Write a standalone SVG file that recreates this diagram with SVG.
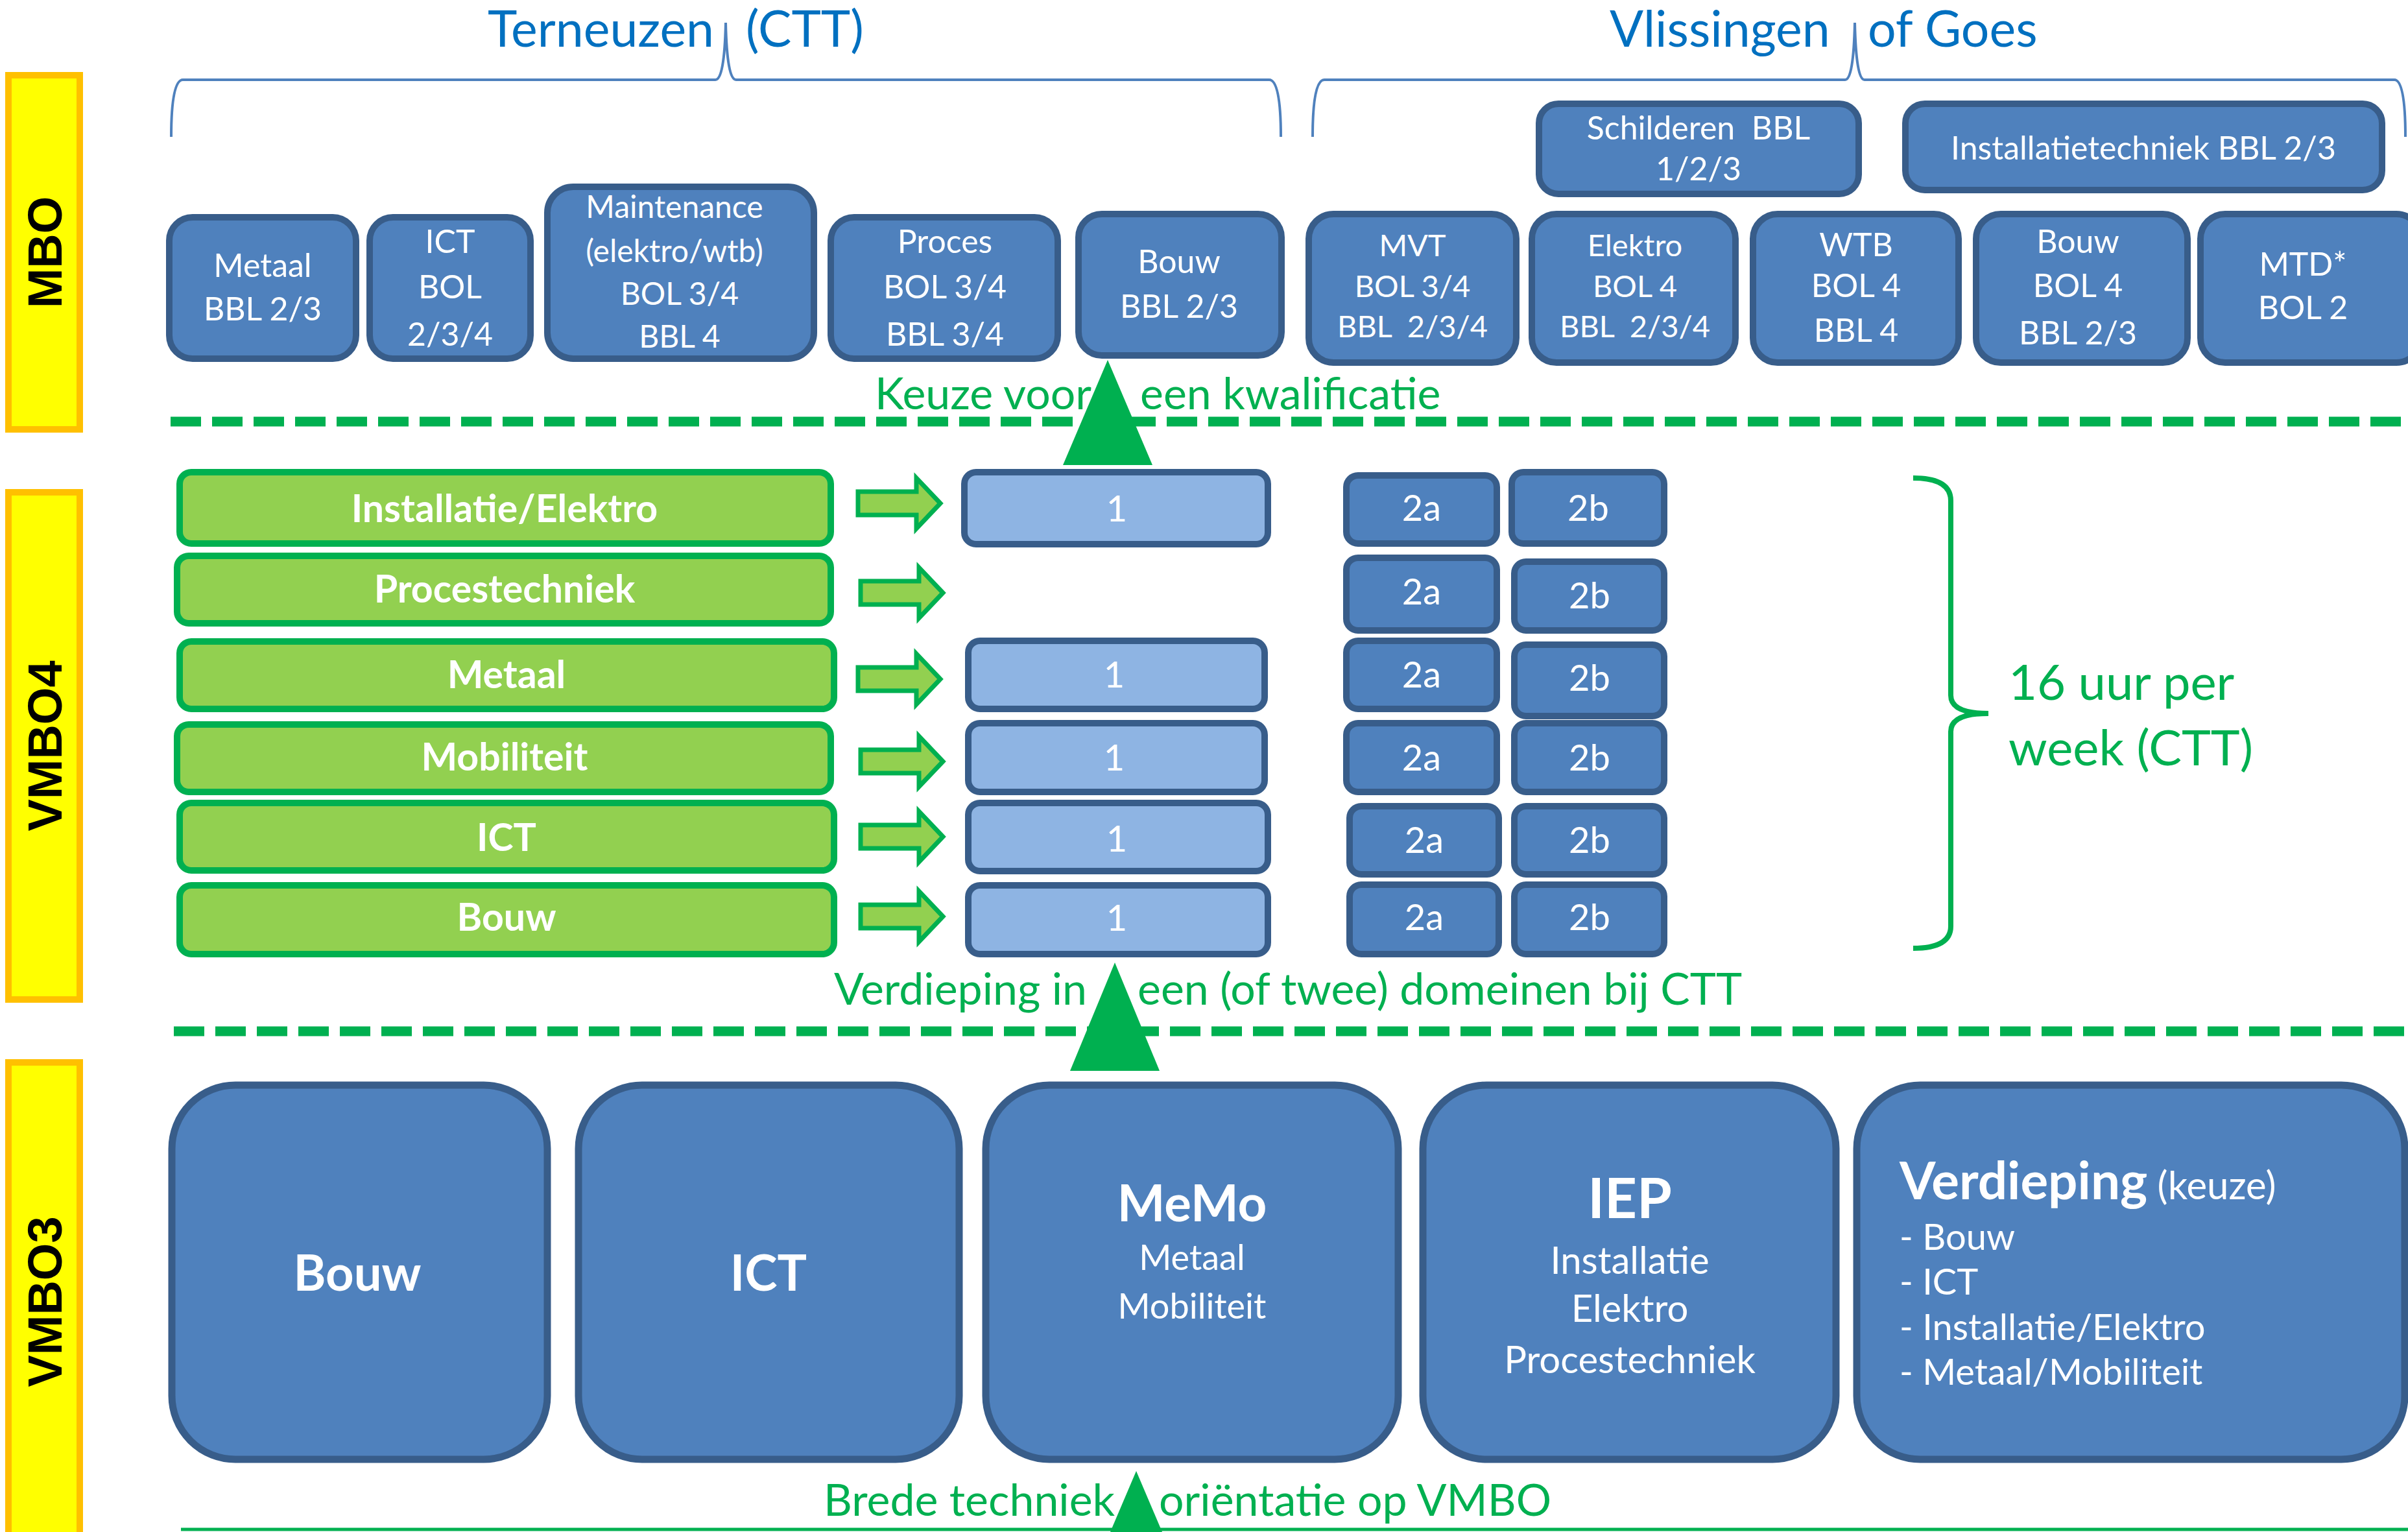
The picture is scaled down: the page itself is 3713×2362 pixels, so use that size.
<svg xmlns="http://www.w3.org/2000/svg" xmlns:xlink="http://www.w3.org/1999/xlink" width="3713" height="2362" viewBox="0 0 3713 2362">
<style>
.bar{fill:#FFFF00;stroke:#FFC000;stroke-width:10}
.barT{font-family:"Liberation Sans",Arial,sans-serif;font-weight:bold;font-size:74px;fill:#000;text-anchor:middle}
.mbo{fill:#4F81BD;stroke:#385D8A;stroke-width:10}
.lb{fill:#8EB4E3;stroke:#385D8A;stroke-width:10}
.gb{fill:#92D050;stroke:#00B050;stroke-width:10}
.big{fill:#4F81BD;stroke:#385D8A;stroke-width:11}
.t{font-family:Lato,"Open Sans",sans-serif;fill:#fff;text-anchor:middle}
.m{font-size:50px}
.s{font-size:47px}
.n{font-size:56px}
.gt{font-family:Lato,"Open Sans",sans-serif;fill:#fff;text-anchor:middle;font-weight:bold;font-size:59px}
.gl{font-family:Lato,"Open Sans",sans-serif;fill:#00B050;font-size:68px}
.bl{font-family:Lato,"Open Sans",sans-serif;fill:#0070C0;font-size:77px}
.brace{fill:none;stroke:#4F81BD;stroke-width:4}
.dash{stroke:#00B050;stroke-width:15;stroke-dasharray:47 17}
.tri{fill:#00B050}
.arr{fill:#92D050;stroke:#00B050;stroke-width:7}
</style>
<defs>
<polygon id="arrow" class="arr" points="0,-18 90,-18 90,-39 127,0 90,39 90,18 0,18"/>
</defs>

<g id="bar-mbo"><rect class="bar" x="13" y="116" width="110" height="546"/><text class="barT" transform="translate(95,389) rotate(-90)">MBO</text></g>
<g id="bar-vmbo4"><rect class="bar" x="13" y="759" width="110" height="782"/><text class="barT" transform="translate(95,1150) rotate(-90)">VMBO4</text></g>
<g id="bar-vmbo3"><rect class="bar" x="13" y="1638" width="110" height="760"/><text class="barT" transform="translate(95,2007) rotate(-90)">VMBO3</text></g>

<g id="label-terneuzen"><text class="bl" y="72"><tspan x="752">Terneuzen</tspan><tspan x="1150">(CTT)</tspan></text></g>
<g id="label-vlissingen"><text class="bl" y="72"><tspan x="2482">Vlissingen</tspan><tspan x="2880">of Goes</tspan></text></g>

<g id="connectors">
<path class="brace" d="M264,211 Q264,123 282,123 L1103,123 Q1117,123 1119,35 Q1121,123 1135,123 L1957,123 Q1975,123 1975,211"/>
<path class="brace" d="M2024,211 Q2024,123 2042,123 L2845,123 Q2858,123 2860,35 Q2862,123 2875,123 L3692,123 Q3709,123 3709,211"/>
<line class="dash" x1="263" y1="650" x2="3713" y2="650"/>
<line class="dash" x1="268" y1="1590" x2="3713" y2="1590"/>
<line x1="279" y1="2358" x2="3713" y2="2358" stroke="#00B050" stroke-width="5"/>
<polygon class="tri" points="1708,555 1639,717 1777,717"/>
<polygon class="tri" points="1719,1484 1650,1651 1788,1651"/>
<polygon class="tri" points="1752,2268 1683,2430 1821,2430"/>
<use xlink:href="#arrow" x="1323" y="776"/>
<use xlink:href="#arrow" x="1327" y="914"/>
<use xlink:href="#arrow" x="1323" y="1047"/>
<use xlink:href="#arrow" x="1327" y="1174"/>
<use xlink:href="#arrow" x="1327" y="1290"/>
<use xlink:href="#arrow" x="1327" y="1413"/>
<path d="M2950,737 Q3008,737 3008,772 L3008,1072 Q3008,1100 3066,1100 Q3008,1100 3008,1128 L3008,1428 Q3008,1462 2950,1462" fill="none" stroke="#00B050" stroke-width="8"/>
</g>

<g id="label-keuze"><text class="gl" y="631"><tspan x="1349">Keuze voor</tspan><tspan x="1758">een kwalificatie</tspan></text></g>
<g id="label-verdieping"><text class="gl" y="1549"><tspan x="1286">Verdieping in</tspan><tspan x="1754">een (of twee) domeinen bij CTT</tspan></text></g>
<g id="label-brede"><text class="gl" y="2337"><tspan x="1270">Brede techniek</tspan><tspan x="1787">oriëntatie op VMBO</tspan></text></g>
<g id="label-16uur"><text class="gl" style="font-size:76px"><tspan x="3097" y="1079">16 uur per</tspan><tspan x="3097" y="1180">week (CTT)</tspan></text></g>

<!-- MBO Terneuzen -->
<g id="mbo-metaal"><rect class="mbo" x="261" y="335" width="288" height="218" rx="36"/><text class="t m"><tspan x="405" y="427">Metaal</tspan><tspan x="405" y="494">BBL 2/3</tspan></text></g>
<g id="mbo-ict"><rect class="mbo" x="570" y="335" width="248" height="218" rx="36"/><text class="t m"><tspan x="694" y="390">ICT</tspan><tspan x="694" y="460">BOL</tspan><tspan x="694" y="533">2/3/4</tspan></text></g>
<g id="mbo-maintenance"><rect class="mbo" x="844" y="288" width="411" height="265" rx="40"/><text class="t" style="font-size:48px"><tspan x="1040" y="336">Maintenance</tspan><tspan x="1040" y="404">(elektro/wtb)</tspan><tspan x="1048" y="470">BOL 3/4</tspan><tspan x="1048" y="536">BBL 4</tspan></text></g>
<g id="mbo-proces"><rect class="mbo" x="1281" y="335" width="350" height="218" rx="36"/><text class="t m"><tspan x="1457" y="390">Proces</tspan><tspan x="1457" y="460">BOL 3/4</tspan><tspan x="1457" y="533">BBL 3/4</tspan></text></g>
<g id="mbo-bouw-t"><rect class="mbo" x="1663" y="330" width="313" height="218" rx="36"/><text class="t m"><tspan x="1818" y="421">Bouw</tspan><tspan x="1818" y="490">BBL 2/3</tspan></text></g>

<!-- MBO Vlissingen -->
<g id="mbo-schilderen"><rect class="mbo" x="2373" y="160" width="493" height="139" rx="30"/><text class="t m"><tspan x="2619" y="215">Schilderen&#160; BBL</tspan><tspan x="2619" y="278">1/2/3</tspan></text></g>
<g id="mbo-installatietechniek"><rect class="mbo" x="2938" y="160" width="735" height="133" rx="30"/><text class="t m" x="3305" y="246">Installatietechniek BBL 2/3</text></g>
<g id="mbo-mvt"><rect class="mbo" x="2018" y="330" width="320" height="229" rx="38"/><text class="t s"><tspan x="2178" y="395">MVT</tspan><tspan x="2178" y="458">BOL 3/4</tspan><tspan x="2178" y="520">BBL&#160; 2/3/4</tspan></text></g>
<g id="mbo-elektro"><rect class="mbo" x="2362" y="330" width="314" height="229" rx="38"/><text class="t s"><tspan x="2521" y="395">Elektro</tspan><tspan x="2521" y="458">BOL 4</tspan><tspan x="2521" y="520">BBL&#160; 2/3/4</tspan></text></g>
<g id="mbo-wtb"><rect class="mbo" x="2703" y="330" width="317" height="229" rx="38"/><text class="t m"><tspan x="2862" y="395">WTB</tspan><tspan x="2862" y="458">BOL 4</tspan><tspan x="2862" y="527">BBL 4</tspan></text></g>
<g id="mbo-bouw-v"><rect class="mbo" x="3047" y="330" width="326" height="229" rx="38"/><text class="t m"><tspan x="3204" y="390">Bouw</tspan><tspan x="3204" y="458">BOL 4</tspan><tspan x="3204" y="531">BBL 2/3</tspan></text></g>
<g id="mbo-mtd"><rect class="mbo" x="3393" y="330" width="340" height="229" rx="38"/><text class="t m"><tspan x="3551" y="425">MTD*</tspan><tspan x="3551" y="492">BOL 2</tspan></text></g>

<!-- VMBO4 -->
<g id="v4-installatie"><rect class="gb" x="277" y="728" width="1004" height="110" rx="18"/><text class="gt" x="778" y="805">Installatie/Elektro</text></g>
<g id="v4-procestechniek"><rect class="gb" x="273" y="857" width="1008" height="104" rx="18"/><text class="gt" x="778" y="929">Procestechniek</text></g>
<g id="v4-metaal"><rect class="gb" x="277" y="989" width="1009" height="104" rx="18"/><text class="gt" x="781" y="1061">Metaal</text></g>
<g id="v4-mobiliteit"><rect class="gb" x="273" y="1117" width="1008" height="104" rx="18"/><text class="gt" x="778" y="1188">Mobiliteit</text></g>
<g id="v4-ict"><rect class="gb" x="277" y="1238" width="1009" height="104" rx="18"/><text class="gt" x="781" y="1312">ICT</text></g>
<g id="v4-bouw"><rect class="gb" x="277" y="1365" width="1009" height="106" rx="18"/><text class="gt" x="781" y="1435">Bouw</text></g>

<g id="v4-1-a"><rect class="lb" x="1487" y="728" width="468" height="111" rx="18"/><text class="t n" x="1722" y="804">1</text></g>
<g id="v4-1-c"><rect class="lb" x="1493" y="988" width="457" height="105" rx="18"/><text class="t n" x="1718" y="1060">1</text></g>
<g id="v4-1-d"><rect class="lb" x="1493" y="1115" width="457" height="106" rx="18"/><text class="t n" x="1718" y="1188">1</text></g>
<g id="v4-1-e"><rect class="lb" x="1493" y="1238" width="462" height="105" rx="18"/><text class="t n" x="1722" y="1313">1</text></g>
<g id="v4-1-f"><rect class="lb" x="1493" y="1365" width="462" height="106" rx="18"/><text class="t n" x="1722" y="1435">1</text></g>

<g id="v4-2a-1"><rect class="mbo" x="2076" y="733" width="232" height="105" rx="18"/><text class="t n" x="2192" y="803">2a</text></g>
<g id="v4-2b-1"><rect class="mbo" x="2331" y="728" width="235" height="110" rx="18"/><text class="t n" x="2449" y="803">2b</text></g>
<g id="v4-2a-2"><rect class="mbo" x="2076" y="860" width="232" height="112" rx="18"/><text class="t n" x="2192" y="932">2a</text></g>
<g id="v4-2b-2"><rect class="mbo" x="2335" y="866" width="231" height="106" rx="18"/><text class="t n" x="2451" y="938">2b</text></g>
<g id="v4-2a-3"><rect class="mbo" x="2076" y="988" width="232" height="105" rx="18"/><text class="t n" x="2192" y="1060">2a</text></g>
<g id="v4-2b-3"><rect class="mbo" x="2335" y="994" width="231" height="110" rx="18"/><text class="t n" x="2451" y="1065">2b</text></g>
<g id="v4-2a-4"><rect class="mbo" x="2076" y="1115" width="232" height="106" rx="18"/><text class="t n" x="2192" y="1188">2a</text></g>
<g id="v4-2b-4"><rect class="mbo" x="2335" y="1115" width="231" height="106" rx="18"/><text class="t n" x="2451" y="1188">2b</text></g>
<g id="v4-2a-5"><rect class="mbo" x="2081" y="1243" width="230" height="105" rx="18"/><text class="t n" x="2196" y="1315">2a</text></g>
<g id="v4-2b-5"><rect class="mbo" x="2335" y="1243" width="231" height="105" rx="18"/><text class="t n" x="2451" y="1315">2b</text></g>
<g id="v4-2a-6"><rect class="mbo" x="2081" y="1364" width="230" height="107" rx="18"/><text class="t n" x="2196" y="1434">2a</text></g>
<g id="v4-2b-6"><rect class="mbo" x="2335" y="1364" width="231" height="107" rx="18"/><text class="t n" x="2451" y="1434">2b</text></g>

<!-- VMBO3 -->
<g id="v3-bouw"><rect class="big" x="265" y="1673" width="579" height="577" rx="98"/><text class="t" style="font-size:76px;font-weight:bold" x="551" y="1990">Bouw</text></g>
<g id="v3-ict"><rect class="big" x="892" y="1673" width="587" height="577" rx="98"/><text class="t" style="font-size:76px;font-weight:bold" x="1185" y="1990">ICT</text></g>
<g id="v3-memo"><rect class="big" x="1520" y="1673" width="636" height="577" rx="98"/><text class="t"><tspan x="1838" y="1883" style="font-size:78px;font-weight:bold">MeMo</tspan><tspan x="1838" y="1958" style="font-size:54px">Metaal</tspan><tspan x="1838" y="2033" style="font-size:54px">Mobiliteit</tspan></text></g>
<g id="v3-iep"><rect class="big" x="2194" y="1673" width="637" height="577" rx="98"/><text class="t"><tspan x="2513" y="1878" style="font-size:87px;font-weight:bold">IEP</tspan><tspan x="2513" y="1964" style="font-size:58px">Installatie</tspan><tspan x="2513" y="2038" style="font-size:58px">Elektro</tspan><tspan x="2513" y="2117" style="font-size:58px">Procestechniek</tspan></text></g>
<g id="v3-verdieping"><rect class="big" x="2863" y="1673" width="845" height="577" rx="98"/><text class="t" style="text-anchor:start"><tspan x="2929" y="1849" style="font-size:80px;font-weight:bold">Verdieping</tspan><tspan style="font-size:60px"> (keuze)</tspan><tspan x="2929" y="1927" style="font-size:56px">- Bouw</tspan><tspan x="2929" y="1996" style="font-size:56px">- ICT</tspan><tspan x="2929" y="2066" style="font-size:56px">- Installatie/Elektro</tspan><tspan x="2929" y="2135" style="font-size:56px">- Metaal/Mobiliteit</tspan></text></g>
</svg>
